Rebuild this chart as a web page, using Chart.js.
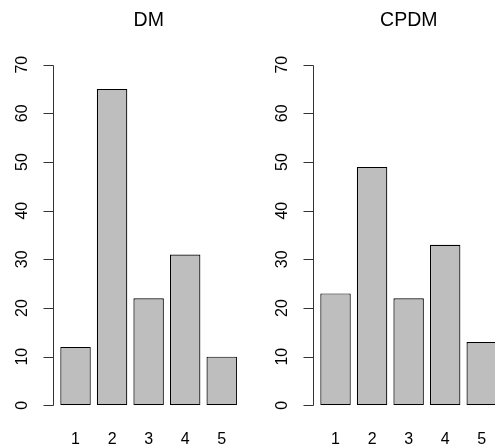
<!DOCTYPE html>
<html>
<head>
<meta charset="utf-8">
<script src="https://cdn.jsdelivr.net/npm/chart.js@4.4.1/dist/chart.umd.min.js"></script>
<style>
  html, body { margin: 0; padding: 0; background: #fff; }
  #wrap { position: relative; width: 495px; height: 447px; overflow: hidden; }
  canvas { position: absolute; top: 0; }
  #dm { left: 0; }
  #cpdm { left: 260px; }
</style>
</head>
<body>
<div id="wrap">
  <canvas id="dm" width="260" height="447"></canvas>
  <canvas id="cpdm" width="260" height="447"></canvas>
</div>
<script>
const categories = ["1", "2", "3", "4", "5"];
const dmValues = [12, 65, 22, 31, 10];
const cpdmValues = [23, 49, 22, 33, 13];
const yTicks = [0, 10, 20, 30, 40, 50, 60, 70];

const FONT = "'Liberation Sans', Arial, sans-serif";

// R style axes: y axis sits a bit left of the bars, rotated tick labels
const rAxes = {
  id: "rAxes",
  afterDraw(chart, args, opts) {
    const ctx = chart.ctx;
    const area = chart.chartArea;
    const xs = chart.scales.x;
    const ys = chart.scales.y;
    const axisX = Math.round(area.left - 4) + 0.5;

    ctx.save();
    ctx.strokeStyle = "#333";
    ctx.lineWidth = 1;
    ctx.fillStyle = "#000";

    const y0 = Math.round(ys.getPixelForValue(yTicks[0])) + 0.5;
    const y1 = Math.round(ys.getPixelForValue(yTicks[yTicks.length - 1])) + 0.5;
    ctx.beginPath();
    ctx.moveTo(axisX, y0);
    ctx.lineTo(axisX, y1);
    yTicks.forEach(v => {
      const py = Math.round(ys.getPixelForValue(v)) + 0.5;
      ctx.moveTo(axisX - 10, py);
      ctx.lineTo(axisX, py);
    });
    ctx.stroke();

    ctx.font = "16px " + FONT;
    ctx.textAlign = "center";
    ctx.textBaseline = "middle";
    yTicks.forEach(v => {
      const py = ys.getPixelForValue(v);
      ctx.save();
      ctx.translate(axisX - 31, py);
      ctx.rotate(-Math.PI / 2);
      ctx.fillText(String(v), 0, 0);
      ctx.restore();
    });

    categories.forEach((c, i) => {
      ctx.fillText(c, xs.getPixelForValue(i), area.bottom + 34.5);
    });

    ctx.font = "19.5px " + FONT;
    ctx.fillText(opts.title, (axisX + area.right + 4) / 2, 21);
    ctx.restore();
  }
};

function makePanel(id, title, values) {
  return new Chart(document.getElementById(id), {
    type: "bar",
    data: {
      labels: categories,
      datasets: [{
        data: values,
        backgroundColor: "#bebebe",
        borderColor: "#000",
        borderWidth: 1.2,
        borderSkipped: false,
        categoryPercentage: 1,
        barPercentage: 1 / 1.2
      }]
    },
    options: {
      responsive: false,
      animation: false,
      layout: { padding: { left: 57.25, right: 20, top: 64.7, bottom: 41.7 } },
      scales: {
        x: { display: false },
        y: { display: false, min: 0, max: 70 }
      },
      plugins: {
        legend: { display: false },
        tooltip: { enabled: false },
        rAxes: { title: title }
      }
    },
    plugins: [rAxes]
  });
}

makePanel("dm", "DM", dmValues);
makePanel("cpdm", "CPDM", cpdmValues);
</script>
</body>
</html>
